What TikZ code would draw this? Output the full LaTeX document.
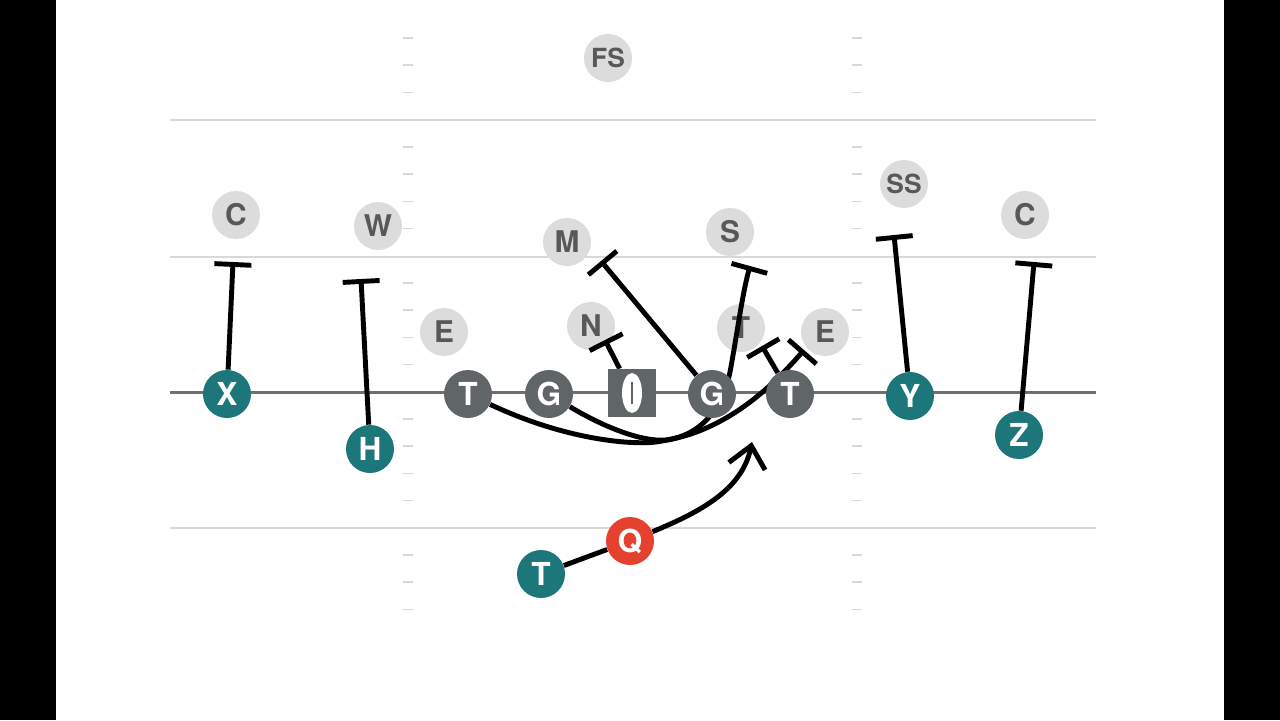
\documentclass[tikz,border=0pt]{standalone}
\usepackage{fontspec}
\setmainfont{TeX Gyre Heros}
\usetikzlibrary{arrows.meta}
\pgfdeclarelayer{background layer}
\pgfdeclarelayer{route layer}
\pgfsetlayers{background layer,route layer,main}
\definecolor{offteal}{RGB}{29,118,121}
\definecolor{linegray}{RGB}{96,102,104}
\definecolor{qbred}{RGB}{228,66,46}
\definecolor{defgray}{RGB}{220,220,220}
\definecolor{deftext}{RGB}{88,88,88}
\definecolor{fieldline}{RGB}{216,216,216}
\definecolor{losline}{RGB}{112,112,112}
\tikzset{
	player base/.style={circle, minimum size=0.96cm, inner sep=0pt, font=\bfseries\fontsize{18}{18}\selectfont},
	offense/.style={player base, fill=offteal, text=white},
	lineman/.style={player base, fill=linegray, text=white},
	passer/.style={player base, fill=qbred, text=white},
	defense/.style={player base, fill=defgray, text=deftext, font=\bfseries\fontsize{17}{17}\selectfont},
	route/.style={draw, line width=2.8pt, black},
	block/.style={route, -{Bar[width=0.74cm]}},
}

\begin{document}
\begin{tikzpicture}[x=0.02cm,y=-0.02cm]
	\useasboundingbox (0,0) rectangle (1280,720);

	% Field and defense on background layer
	\begin{pgfonlayer}{background layer}
	\fill [white] (0,0) rectangle (1280,720);
	\fill [black] (0,0) rectangle (56,720);
	\fill [black] (1224,0) rectangle (1280,720);
	\foreach \yy in {120,257,528}
		\draw [fieldline, line width=0.8pt] (170,\yy) -- (1096,\yy);
	\draw [losline, line width=1.7pt] (170,392) -- (1096,392);
	\foreach \k in {0,...,21} {
		\pgfmathtruncatemacro\r{mod(\k,5)}
		\ifnum\r=3 \else
			\draw [fieldline, line width=0.8pt] (403,38+27.2*\k) -- (413,38+27.2*\k);
			\draw [fieldline, line width=0.8pt] (852,38+27.2*\k) -- (862,38+27.2*\k);
		\fi
	}

	\node [defense,font=\bfseries\fontsize{15}{15}\selectfont] (fs) at (608,58) {FS};
	\node [defense] (cl) at (236,215) {C};
	\node [defense] (w) at (378,226) {W};
	\node [defense] (m) at (567,242) {M};
	\node [defense] (s) at (730,232) {S};
	\node [defense,font=\bfseries\fontsize{15}{15}\selectfont] (ss) at (904,184) {SS};
	\node [defense] (cr) at (1025,215) {C};
	\node [defense] (el) at (444,332) {E};
	\node [defense] (n) at (591,326) {N};
	\node [defense] (dt) at (741,328) {T};
	\node [defense] (er) at (825,332) {E};
	\end{pgfonlayer}

	% Offense on main layer
	\node [offense] (X) at (227,394) {X};
	\node [offense] (H) at (370,449) {H};
	\node [lineman] (TL) at (468,394) {T};
	\node [lineman] (GL) at (549,394) {G};
	\node [lineman,rectangle,minimum size=0.96cm] (C0) at (632,393) {};
	\fill [white] (C0.center) ellipse [x radius=10, y radius=20];
	\draw [linegray, line width=0.9pt] (632,382) -- (632,404);
	\node [lineman] (GR) at (712,394) {G};
	\node [lineman] (TR) at (790,394) {T};
	\node [offense] (Y) at (910,396) {Y};
	\node [offense] (Z) at (1019,435) {Z};
	\node [passer] (Q) at (630,541) {Q};
	\node [offense] (TB) at (541,574) {T};

	% Blocks and runs on route layer
	\begin{pgfonlayer}{route layer}
	\draw [block] (X) -- (233,262);
	\draw [block] (H) -- (361,279);
	\draw [block] (Y) -- (894,235);
	\draw [block] (Z) -- (1034,262);
	\draw [block] (C0) -- (605,340);
	\draw [block] (GR) -- (601,261);
	\draw [block] (TR) -- (762,346);
	\draw [block] (TL) .. controls (570,442) and (640,446) .. (662,441) .. controls (720,432) and (765,395) .. (804,350);
	\draw [block] (GL) .. controls (600,425) and (640,442) .. (665,440) .. controls (700,436) and (722,410) .. (730,372) .. controls (737,335) and (742,295) .. (750,266);
	\draw [route] (TB) -- (Q);
	\draw [route,-{Straight Barb[length=0.42cm,width=0.74cm]}] (Q) .. controls (700,512) and (742,490) .. (752,442);
	\end{pgfonlayer}
\end{tikzpicture}
\end{document}
